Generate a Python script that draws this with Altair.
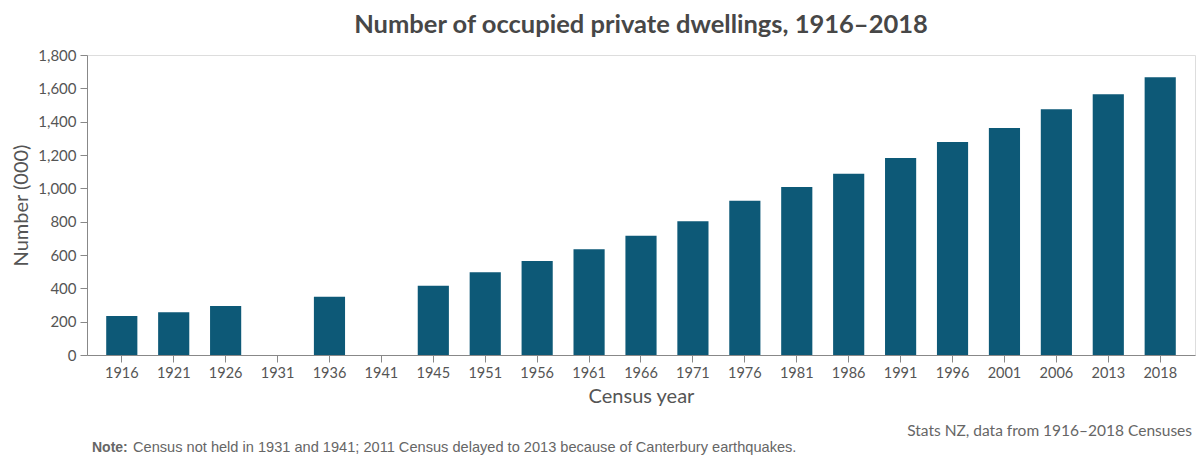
import altair as alt
import pandas as pd

years = ["1916", "1921", "1926", "1931", "1936", "1941", "1945", "1951", "1956", "1961",
         "1966", "1971", "1976", "1981", "1986", "1991", "1996", "2001", "2006", "2013", "2018"]
dwellings = [234, 256, 294, None, 350, None, 416, 496, 564, 634,
             716, 802, 926, 1008, 1088, 1182, 1278, 1362, 1474, 1564, 1666]

title_text = "Number of occupied private dwellings, 1916–2018"
note_bold = "Note:"
note_text = "Census not held in 1931 and 1941; 2011 Census delayed to 2013 because of Canterbury earthquakes."
source_text = "Stats NZ, data from 1916–2018 Censuses"
y_ticks = [0, 200, 400, 600, 800, 1000, 1200, 1400, 1600, 1800]

df = pd.DataFrame({"year": years, "value": dwellings})

bars = alt.Chart(df).mark_bar(color="#0d5977").encode(
    x=alt.X("year:N", sort=years,
            scale=alt.Scale(domain=years, paddingInner=0.4, paddingOuter=0.37),
            axis=alt.Axis(title="Census year", labelAngle=0, labelFontSize=14.5,
                          labelFont="Lato", labelColor="#555", titleFont="Lato",
                          titleFontSize=20, titleFontWeight="normal", titleColor="#555",
                          tickSize=7, labelPadding=4, titlePadding=7,
                          domainColor="#888", tickColor="#888")),
    y=alt.Y("value:Q",
            scale=alt.Scale(domain=[0, 1800], nice=False),
            axis=alt.Axis(title="Number (000)", values=y_ticks, format=",.0f",
                          labelFontSize=15, labelFont="Lato", labelColor="#555",
                          titleFont="Lato", titleFontSize=20, titleFontWeight="normal",
                          titleColor="#555", tickSize=7, labelPadding=4, titlePadding=6,
                          grid=False, domainColor="#888", tickColor="#888")),
)

note_df = pd.DataFrame({"t": [note_bold]})
note1 = alt.Chart(note_df).mark_text(
    align="left", baseline="middle", font="Liberation Sans", fontSize=14,
    fontWeight="bold", color="#666"
).encode(x=alt.value(5), y=alt.value(393), text="t:N")

note2_df = pd.DataFrame({"t": [note_text]})
note2 = alt.Chart(note2_df).mark_text(
    align="left", baseline="middle", font="Liberation Sans", fontSize=14.6, color="#666"
).encode(x=alt.value(46), y=alt.value(393), text="t:N")

src_df = pd.DataFrame({"t": [source_text]})
src = alt.Chart(src_df).mark_text(
    align="right", baseline="middle", font="Lato", fontSize=15.5, color="#666"
).encode(x=alt.value(1105), y=alt.value(376), text="t:N")

chart = alt.layer(bars, note1, note2, src).properties(
    width=1108,
    height=300,
    title=alt.TitleParams(title_text, anchor="middle", font="Lato", fontSize=25.5,
                          fontWeight="bold", color="#474747", offset=10),
    autosize=alt.AutoSizeParams(type="none"),
    padding={"left": 87, "top": 55, "right": 4, "bottom": 100},
).configure_view(stroke=None).configure(background="white")

chart.save("out.html", embed_options={"renderer": "svg", "actions": False})
